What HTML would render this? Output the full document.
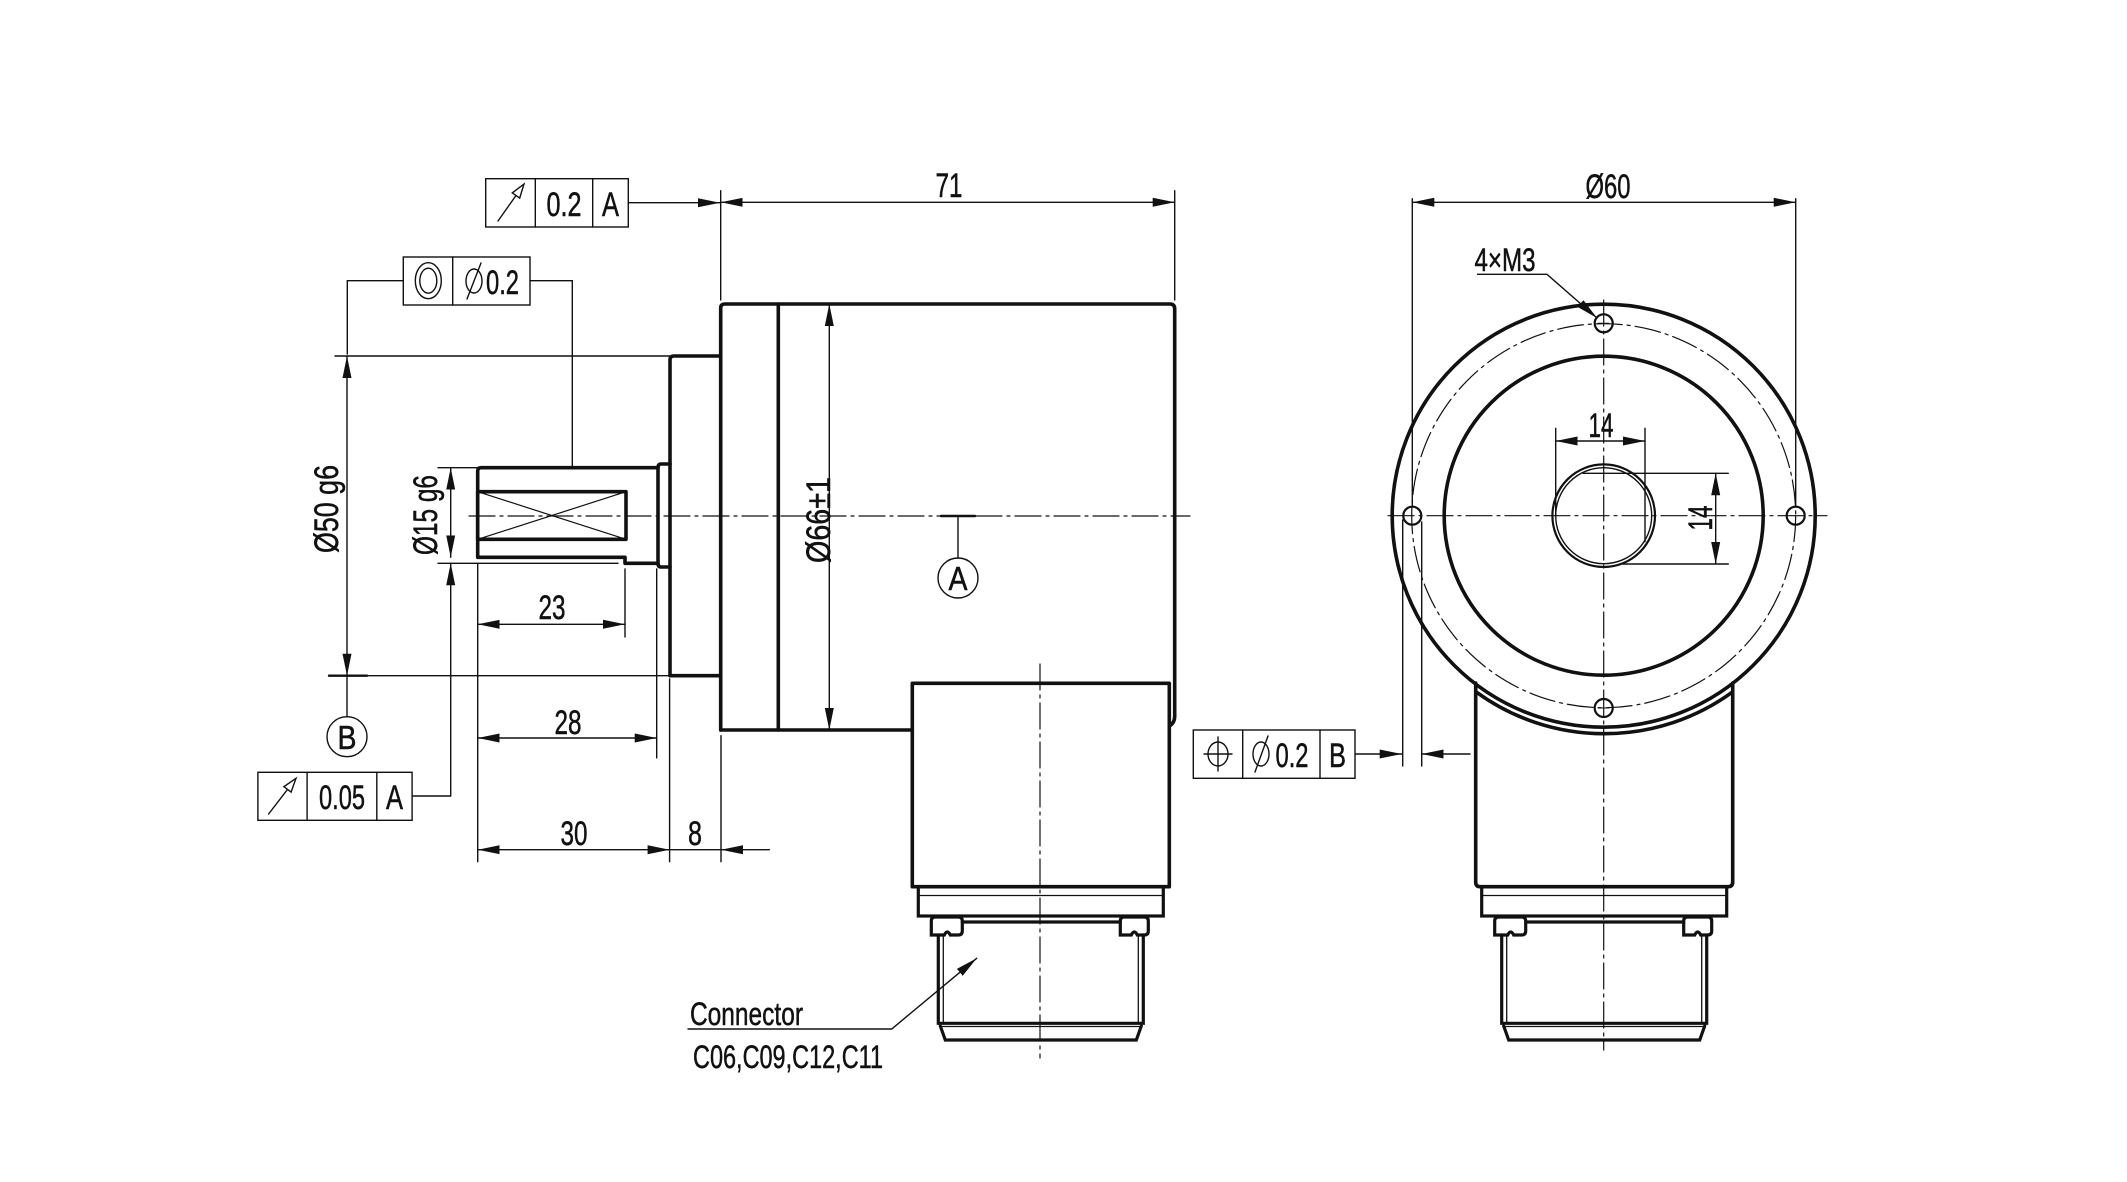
<!DOCTYPE html>
<html><head><meta charset="utf-8"><style>
html,body{margin:0;padding:0;background:#fff;}
svg{display:block;}
text{font-family:"Liberation Sans",sans-serif;fill:#111;stroke:#111;stroke-width:0.5;}
</style></head><body>
<svg width="2127" height="1182" viewBox="0 0 2127 1182" xmlns="http://www.w3.org/2000/svg">
<defs>
<marker id="a" markerUnits="userSpaceOnUse" markerWidth="24" markerHeight="12" refX="22" refY="5" orient="auto-start-reverse" viewBox="0 0 24 10"><path d="M0,0.5 L22,5 L0,9.5z" fill="#111"/></marker>
</defs>
<g fill="none" stroke="#111" stroke-linecap="round">
<g stroke-width="1.2" stroke-dasharray="26 5 3 5">
<line x1="469" y1="516" x2="1190" y2="516"/>
<line x1="1040" y1="664" x2="1040" y2="1058"/>
</g>
<g stroke-width="3.6" stroke-linejoin="round">
<path d="M720.7,730 L720.7,308 Q720.7,304 725,304 L1170,304 Q1174.7,304 1174.7,309 L1174.7,716 Q1174.7,723 1169.3,726"/>
<line x1="778.3" y1="304" x2="778.3" y2="730"/>
<line x1="720.7" y1="730" x2="912.3" y2="730"/>
<path d="M720.7,356 L674,356 Q670,356 670,360 L670,675.7 L720.7,675.7"/>
<path d="M670,464 L661,464 Q658,464 658,468 L658,563 Q658,567 661,567 L670,567"/>
<path d="M658,467.7 L481,467.7 Q477.7,467.7 477.7,471 L477.7,557.3 L625,557.3 L625,563.3 L658,563.3"/>
<rect x="477.7" y="491.7" width="148.3" height="47.6"/>
<path d="M912.3,726 L912.3,683.3 L1169.3,683.3 L1169.3,886.7 L912.3,886.7 L912.3,726"/>
</g>
<g stroke-width="1.2">
<line x1="477.7" y1="491.7" x2="626" y2="539.3"/>
<line x1="477.7" y1="539.3" x2="626" y2="491.7"/>
</g>
<g transform="translate(912.3,0)">
<g stroke-width="3.2"><rect x="6" y="886.7" width="245" height="29.3"/>
<line x1="50" y1="922" x2="208" y2="922"/>
<path d="M19,935 L19,921 Q19,917 23,917 L46,917 Q50,917 50,921 L50,931 Q50,935 46,935 L38,935 Q35,929 32,935 Z"/>
<path d="M208,935 L208,921 Q208,917 212,917 L232,917 Q236,917 236,921 L236,931 Q236,935 232,935 L225,935 Q222,929 219,935 Z"/>
<path d="M26,935 L26,1023.3 L231,1023.3 L231,935"/>
<path d="M28,1026 L33,1040 L224,1040 L229,1026"/></g>
<g stroke-width="1.3"><line x1="6" y1="895.5" x2="251" y2="895.5"/>
<line x1="31" y1="935" x2="31" y2="1023"/><line x1="226" y1="935" x2="226" y2="1023"/>
<line x1="28" y1="1026.5" x2="229" y2="1026.5"/></g>
</g>
<g transform="translate(1475.7,0)">
<g stroke-width="3.2"><rect x="6" y="886.7" width="245" height="29.3"/>
<line x1="50" y1="922" x2="208" y2="922"/>
<path d="M19,935 L19,921 Q19,917 23,917 L46,917 Q50,917 50,921 L50,931 Q50,935 46,935 L38,935 Q35,929 32,935 Z"/>
<path d="M208,935 L208,921 Q208,917 212,917 L232,917 Q236,917 236,921 L236,931 Q236,935 232,935 L225,935 Q222,929 219,935 Z"/>
<path d="M26,935 L26,1023.3 L231,1023.3 L231,935"/>
<path d="M28,1026 L33,1040 L224,1040 L229,1026"/></g>
<g stroke-width="1.3"><line x1="6" y1="895.5" x2="251" y2="895.5"/>
<line x1="31" y1="935" x2="31" y2="1023"/><line x1="226" y1="935" x2="226" y2="1023"/>
<line x1="28" y1="1026.5" x2="229" y2="1026.5"/></g>
</g>
<g stroke-width="1.4">
<line x1="720.7" y1="190.7" x2="720.7" y2="300"/>
<line x1="1174.7" y1="190.7" x2="1174.7" y2="300"/>
<line x1="720.7" y1="202.3" x2="1174.7" y2="202.3" marker-start="url(#a)" marker-end="url(#a)"/>
<rect x="485.7" y="178.7" width="142.6" height="48.3"/>
<line x1="535.3" y1="178.7" x2="535.3" y2="227"/>
<line x1="592.7" y1="178.7" x2="592.7" y2="227"/>
<line x1="628.3" y1="202.7" x2="720" y2="202.7" marker-end="url(#a)"/>
<line x1="498" y1="221" x2="516" y2="195.5"/>
<path d="M524,184 L512.3,192.9 L519.7,198.1 Z"/>
<rect x="403.3" y="257" width="126.7" height="48"/>
<line x1="452.7" y1="257" x2="452.7" y2="305"/>
<ellipse cx="428.3" cy="280.7" rx="13" ry="18"/>
<ellipse cx="428.3" cy="280.7" rx="8.5" ry="12.5"/>
<ellipse cx="474" cy="281" rx="8" ry="12"/>
<line x1="467" y1="299" x2="481" y2="263"/>
<path d="M403.3,280.7 L347.3,280.7 L347.3,354"/>
<path d="M530,280.7 L572.3,280.7 L572.3,467.7"/>
<line x1="335" y1="356" x2="670" y2="356"/>
<line x1="329" y1="675.7" x2="670" y2="675.7"/>
<line x1="347" y1="356" x2="347" y2="675.7" marker-start="url(#a)" marker-end="url(#a)"/>
<line x1="347" y1="675.7" x2="347" y2="716.7"/>
<circle cx="347" cy="736.7" r="20"/>
<line x1="438" y1="467.7" x2="477.7" y2="467.7"/>
<line x1="438" y1="563.3" x2="618" y2="563.3"/>
<line x1="450.7" y1="467.7" x2="450.7" y2="557.3" marker-start="url(#a)" marker-end="url(#a)"/>
<line x1="450.7" y1="796" x2="450.7" y2="563.3" marker-end="url(#a)"/>
<path d="M412.1,796 L450.7,796"/>
<rect x="257.9" y="772.3" width="154.2" height="48"/>
<line x1="307.1" y1="772.3" x2="307.1" y2="820.3"/>
<line x1="376.8" y1="772.3" x2="376.8" y2="820.3"/>
<line x1="268.6" y1="814" x2="287.5" y2="789.4"/>
<path d="M296,778.3 L283.9,786.7 L291.1,792.1 Z"/>
<line x1="477.7" y1="563.3" x2="477.7" y2="861.7"/>
<line x1="625" y1="569" x2="625" y2="637"/>
<line x1="656.7" y1="569" x2="656.7" y2="757.9"/>
<line x1="669.6" y1="679" x2="669.6" y2="861.7"/>
<line x1="721" y1="735.7" x2="721" y2="861.7"/>
<line x1="477.7" y1="624.3" x2="625" y2="624.3" marker-start="url(#a)" marker-end="url(#a)"/>
<line x1="477.7" y1="738" x2="656.7" y2="738" marker-start="url(#a)" marker-end="url(#a)"/>
<line x1="477.7" y1="849.7" x2="669.6" y2="849.7" marker-start="url(#a)" marker-end="url(#a)"/>
<line x1="669.6" y1="849.7" x2="721" y2="849.7"/>
<line x1="769.3" y1="849.7" x2="721" y2="849.7" marker-end="url(#a)"/>
<line x1="829.3" y1="304" x2="829.3" y2="730" marker-start="url(#a)" marker-end="url(#a)"/>
<line x1="958" y1="516" x2="958" y2="558"/>
<circle cx="958" cy="578" r="20"/>
<path d="M688,1029 L891.7,1029 L976.7,958.3" marker-end="url(#a)"/>
</g>
<g stroke-width="2.4">
<line x1="941" y1="516" x2="975" y2="516"/>
<line x1="329" y1="675.7" x2="367" y2="675.7"/>
</g>
<g stroke-width="1.2" stroke-dasharray="26 5 3 5">
<line x1="1388" y1="515.7" x2="1827" y2="515.7"/>
<line x1="1603.7" y1="300" x2="1603.7" y2="1050"/>
<circle cx="1603.7" cy="515.7" r="192"/>
</g>
<g stroke-width="3.6">
<circle cx="1603.7" cy="515.7" r="211.5"/>
<circle cx="1603.7" cy="515.7" r="159.5"/>
<path d="M1476,691.8 A217.5,217.5 0 0 0 1732.7,691.8"/>
<path d="M1475.7,683 L1475.7,882 Q1475.7,886.7 1480,886.7 L1728,886.7 Q1732.7,886.7 1732.7,882 L1732.7,683"/>
</g>
<g stroke-width="2.2">
<circle cx="1603.7" cy="515.7" r="51.3"/>
<circle cx="1603.7" cy="323.3" r="9"/>
<circle cx="1603.7" cy="708" r="9"/>
<circle cx="1412.3" cy="515.7" r="9"/>
<circle cx="1795.7" cy="515.7" r="9"/>
</g>
<g stroke-width="1.4">
<circle cx="1603.7" cy="515.7" r="48"/>
<line x1="1645" y1="428.3" x2="1645" y2="541.7"/>
<line x1="1555.7" y1="428.3" x2="1555.7" y2="515.7"/>
<line x1="1555.7" y1="441" x2="1645" y2="441" marker-start="url(#a)" marker-end="url(#a)"/>
<line x1="1583" y1="473.3" x2="1728.3" y2="473.3"/>
<line x1="1623" y1="564" x2="1728.3" y2="564"/>
<line x1="1715.7" y1="473.3" x2="1715.7" y2="564" marker-start="url(#a)" marker-end="url(#a)"/>
<line x1="1412.3" y1="198.8" x2="1412.3" y2="507"/>
<line x1="1795.7" y1="198.8" x2="1795.7" y2="507"/>
<line x1="1412.3" y1="202.3" x2="1795.7" y2="202.3" marker-start="url(#a)" marker-end="url(#a)"/>
<path d="M1477.5,274.3 L1547,274.3 L1597,318" marker-end="url(#a)"/>
<line x1="1402.7" y1="520" x2="1402.7" y2="766"/>
<line x1="1421.7" y1="522" x2="1421.7" y2="766"/>
<rect x="1193.3" y="730" width="161.7" height="48.3"/>
<line x1="1242.7" y1="730" x2="1242.7" y2="778.3"/>
<line x1="1320" y1="730" x2="1320" y2="778.3"/>
<ellipse cx="1218" cy="754" rx="10" ry="12"/>
<line x1="1204" y1="754" x2="1232" y2="754"/>
<line x1="1218" y1="737" x2="1218" y2="771"/>
<ellipse cx="1261" cy="754" rx="8" ry="12"/>
<line x1="1255" y1="772" x2="1268" y2="736"/>
<line x1="1355" y1="754" x2="1401.7" y2="754" marker-end="url(#a)"/>
<line x1="1470" y1="754" x2="1421.7" y2="754" marker-end="url(#a)"/>
</g>
<g stroke-width="1"><line x1="1598" y1="323.3" x2="1609" y2="323.3"/><line x1="1598" y1="708" x2="1609" y2="708"/></g>
</g>
<g font-size="34">
<text x="949" y="197" text-anchor="middle" textLength="27" lengthAdjust="spacingAndGlyphs">71</text>
<text x="1608" y="198" text-anchor="middle" textLength="45" lengthAdjust="spacingAndGlyphs">Ø60</text>
<text x="1505" y="271" text-anchor="middle" textLength="61" lengthAdjust="spacingAndGlyphs" font-size="32">4×M3</text>
<text x="564" y="216" text-anchor="middle" textLength="35" lengthAdjust="spacingAndGlyphs">0.2</text>
<text x="610.5" y="216" text-anchor="middle" textLength="17" lengthAdjust="spacingAndGlyphs">A</text>
<text x="502.5" y="294" text-anchor="middle" textLength="33" lengthAdjust="spacingAndGlyphs">0.2</text>
<text x="342" y="809" text-anchor="middle" textLength="46" lengthAdjust="spacingAndGlyphs">0.05</text>
<text x="394.5" y="809" text-anchor="middle" textLength="17" lengthAdjust="spacingAndGlyphs">A</text>
<text x="1292" y="767" text-anchor="middle" textLength="33" lengthAdjust="spacingAndGlyphs">0.2</text>
<text x="1337.5" y="767" text-anchor="middle" textLength="17" lengthAdjust="spacingAndGlyphs">B</text>
<text x="552" y="619" text-anchor="middle" textLength="27" lengthAdjust="spacingAndGlyphs">23</text>
<text x="568" y="734" text-anchor="middle" textLength="27" lengthAdjust="spacingAndGlyphs">28</text>
<text x="574" y="845" text-anchor="middle" textLength="27" lengthAdjust="spacingAndGlyphs">30</text>
<text x="695" y="845" text-anchor="middle" textLength="14" lengthAdjust="spacingAndGlyphs">8</text>
<text x="1601" y="437" text-anchor="middle" textLength="25" lengthAdjust="spacingAndGlyphs">14</text>
<text transform="translate(1712,518) rotate(-90)" text-anchor="middle" textLength="25" lengthAdjust="spacingAndGlyphs">14</text>
<text transform="translate(338,509) rotate(-90)" text-anchor="middle" textLength="88" lengthAdjust="spacingAndGlyphs">Ø50 g6</text>
<text transform="translate(437,515) rotate(-90)" text-anchor="middle" textLength="80" lengthAdjust="spacingAndGlyphs">Ø15 g6</text>
<text transform="translate(830,520) rotate(-90)" text-anchor="middle" textLength="86" lengthAdjust="spacingAndGlyphs">Ø66±1</text>
<text x="958" y="590" text-anchor="middle" font-size="33" textLength="19" lengthAdjust="spacingAndGlyphs">A</text>
<text x="347" y="749" text-anchor="middle" font-size="33" textLength="19" lengthAdjust="spacingAndGlyphs">B</text>
<text x="690" y="1025" font-size="32" textLength="113" lengthAdjust="spacingAndGlyphs">Connector</text>
<text x="693" y="1068" font-size="32" textLength="190" lengthAdjust="spacingAndGlyphs">C06,C09,C12,C11</text>
</g>
</svg>
</body></html>
